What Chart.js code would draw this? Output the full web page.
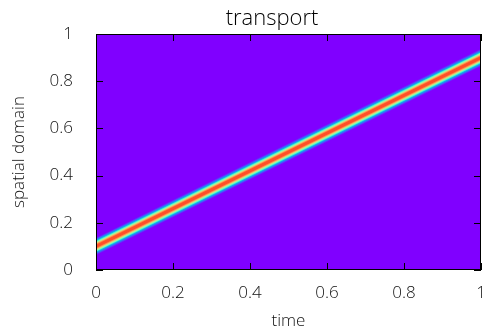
<!DOCTYPE html>
<html>
<head>
<meta charset="utf-8">
<script src="https://cdn.jsdelivr.net/npm/chart.js@4/dist/chart.umd.min.js"></script>
<style>
  html, body { margin: 0; padding: 0; background: #fff; }
  #wrap { width: 485px; height: 332px; }
</style>
</head>
<body>
<div id="wrap"><canvas id="transportChart"></canvas></div>
<script>
// pulse centre at sampled times
const times = [0, 0.2, 0.4, 0.6, 0.8, 1];
const centers = [0.1, 0.26, 0.42, 0.58, 0.74, 0.9];
// pulse profile: half-width in space down to each field level
const bandHalfWidths = [0.036, 0.032, 0.027, 0.023, 0.019, 0.015, 0.011, 0.007];
const bandLevels = [0.06, 0.14, 0.26, 0.4, 0.55, 0.7, 0.82, 0.9];
const tickValues = [0, 0.2, 0.4, 0.6, 0.8, 1];
const tickLabels = ['0', '0.2', '0.4', '0.6', '0.8', '1'];

// gnuplot rgbformulae 33,13,10
function rainbow(v) {
    const clamp = a => Math.max(0, Math.min(1, a));
    const r = clamp(Math.abs(2 * v - 0.5));
    const g = clamp(Math.sin(Math.PI * v));
    const b = clamp(Math.cos(Math.PI * v / 2));
    return `rgb(${Math.round(r * 255)}, ${Math.round(g * 255)}, ${Math.round(b * 255)})`;
}

// line width (px) so the band covers 2*half vertically
function bandWidth(ctx, half) {
    const { x, y } = ctx.chart.scales;
    const n = times.length - 1;
    const dx = x.getPixelForValue(times[n]) - x.getPixelForValue(times[0]);
    const dy = y.getPixelForValue(centers[0]) - y.getPixelForValue(centers[n]);
    const cos = dx / Math.hypot(dx, dy);
    const w = Math.abs(y.getPixelForValue(0) - y.getPixelForValue(2 * half)) * cos;
    return isFinite(w) ? w : 1;
}

const pulse = times.map((t, i) => ({ x: t, y: centers[i] }));

const datasets = bandLevels.map((lvl, i) => ({
    data: pulse,
    borderColor: rainbow(lvl),
    borderWidth: ctx => bandWidth(ctx, bandHalfWidths[i]),
    borderCapStyle: 'square',
    pointRadius: 0,
    tension: 0,
    clip: 0,
    order: bandLevels.length - i
}));

const framePlugin = {
    id: 'frame',
    beforeDatasetsDraw(chart) {
        const { ctx, chartArea: a } = chart;
        ctx.save();
        ctx.fillStyle = rainbow(0);
        ctx.fillRect(a.left, a.top, a.right - a.left, a.bottom - a.top);
        ctx.restore();
    },
    afterDatasetsDraw(chart) {
        const { ctx, chartArea: a, scales } = chart;
        const len = 7;
        ctx.save();
        ctx.strokeStyle = '#000';
        ctx.lineWidth = 1;
        ctx.beginPath();
        tickValues.forEach(v => {
            const px = Math.round(scales.x.getPixelForValue(v)) + 0.5;
            ctx.moveTo(px, a.bottom); ctx.lineTo(px, a.bottom - len);
            ctx.moveTo(px, a.top); ctx.lineTo(px, a.top + len);
            const py = Math.round(scales.y.getPixelForValue(v)) + 0.5;
            ctx.moveTo(a.left, py); ctx.lineTo(a.left + len, py);
            ctx.moveTo(a.right, py); ctx.lineTo(a.right - len, py);
        });
        ctx.stroke();
        ctx.strokeRect(Math.round(a.left) + 0.5, Math.round(a.top) + 0.5,
            Math.round(a.right - a.left) - 1, Math.round(a.bottom - a.top) - 1);
        ctx.restore();
    },
    afterDraw(chart) {
        const ctx = chart.ctx;
        ctx.save();
        ctx.fillStyle = '#000';
        ctx.font = "300 22px 'Open Sans', sans-serif";
        ctx.textAlign = 'center';
        ctx.textBaseline = 'alphabetic';
        ctx.fillText('transport', 272, 25);
        ctx.restore();
    }
};

Chart.defaults.font.family = "'Open Sans', sans-serif";
Chart.defaults.font.weight = 300;
Chart.defaults.color = '#111';

const labelFor = v => tickLabels[tickValues.indexOf(v)] ?? String(v);

new Chart(document.getElementById('transportChart'), {
    type: 'line',
    data: { datasets },
    options: {
        responsive: true,
        maintainAspectRatio: false,
        animation: false,
        layout: { padding: { top: 34, right: 4, left: 0, bottom: 0 } },
        plugins: { legend: { display: false }, tooltip: { enabled: false } },
        scales: {
            x: {
                type: 'linear',
                min: 0, max: 1,
                afterFit: s => { s.height = 62; s.paddingLeft = 0; s.paddingRight = 0; },
                afterBuildTicks: s => { s.ticks = tickValues.map(v => ({ value: v })); },
                grid: { display: false, drawTicks: false },
                border: { display: false },
                ticks: { padding: 13, font: { size: 17 }, maxRotation: 0, callback: labelFor },
                title: { display: true, text: 'time', font: { size: 17 }, padding: { top: 0, bottom: 1 } }
            },
            y: {
                type: 'linear',
                min: 0, max: 1,
                afterFit: s => { s.width = 96; s.paddingTop = 0; s.paddingBottom = 0; },
                afterBuildTicks: s => { s.ticks = tickValues.map(v => ({ value: v })); },
                grid: { display: false, drawTicks: false },
                border: { display: false },
                ticks: { padding: 23, font: { size: 17 }, callback: labelFor },
                title: { display: true, text: 'spatial domain', font: { size: 17 }, padding: { top: 9, bottom: 0 } }
            }
        }
    },
    plugins: [framePlugin]
});
</script>
</body>
</html>
